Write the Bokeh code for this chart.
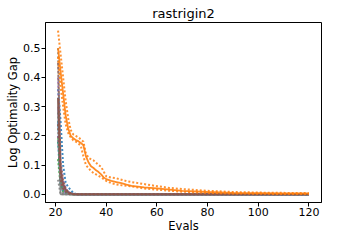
from bokeh.plotting import figure
from bokeh.models import Range1d, FixedTicker, CustomJSTickFormatter
from bokeh.embed import file_html
from bokeh.resources import INLINE

# ---- data ----
orange_x = [21,22,23,24,25,26,27,28,29,30,31,32,33,34,35,36,37,38,39,40,42,44,46,48,50,55,60,65,70,80,90,100,110,120]
orange_med = [0.50,0.42,0.345,0.27,0.225,0.20,0.192,0.186,0.182,0.176,0.168,0.13,0.11,0.096,0.09,0.082,0.076,0.068,0.058,0.052,0.046,0.042,0.038,0.033,0.029,0.024,0.02,0.016,0.012,0.008,0.005,0.004,0.003,0.003]
orange_hi = [0.56,0.48,0.40,0.32,0.26,0.22,0.205,0.20,0.195,0.188,0.18,0.14,0.125,0.12,0.116,0.108,0.10,0.094,0.078,0.062,0.057,0.055,0.05,0.045,0.042,0.035,0.028,0.022,0.018,0.012,0.008,0.006,0.005,0.004]
orange_lo = [0.47,0.37,0.30,0.24,0.21,0.195,0.185,0.18,0.175,0.165,0.13,0.10,0.09,0.08,0.073,0.068,0.063,0.058,0.052,0.046,0.038,0.034,0.031,0.029,0.027,0.02,0.016,0.012,0.009,0.005,0.003,0.002,0.001,0.001]

fast_x = [21,22,23,24,25,26,27,28,30,120]
blue_med = [0.25,0.06,0.03,0.015,0.008,0.004,0.002,0.001,0.0,0.0]
blue_hi = [0.36,0.25,0.10,0.04,0.025,0.015,0.005,0.001,0.0,0.0]
blue_lo = [0.18,0.03,0.01,0.004,0.001,0.0,0.0,0.0,0.0,0.0]
green_med = [0.20,0.05,0.02,0.01,0.004,0.001,0.0,0.0,0.0,0.0]
green_hi = [0.28,0.07,0.03,0.012,0.005,0.002,0.0,0.0,0.0,0.0]
green_lo = [0.12,0.03,0.01,0.004,0.001,0.0,0.0,0.0,0.0,0.0]
purple_med = [0.30,0.07,0.03,0.012,0.006,0.002,0.001,0.0,0.0,0.0]
purple_hi = [0.40,0.10,0.045,0.02,0.008,0.003,0.001,0.0,0.0,0.0]
purple_lo = [0.20,0.04,0.015,0.006,0.002,0.0,0.0,0.0,0.0,0.0]
brown_med = [0.33,0.08,0.035,0.015,0.007,0.003,0.001,0.0,0.0,0.0]
brown_hi = [0.45,0.11,0.05,0.02,0.009,0.004,0.002,0.0,0.0,0.0]
brown_lo = [0.24,0.05,0.02,0.008,0.003,0.001,0.0,0.0,0.0,0.0]
gray_med = [0.33,0.0,0.0,0.0,0.0,0.0,0.0,0.0,0.0,0.0]
gray_hi = [0.50,0.05,0.0,0.0,0.0,0.0,0.0,0.0,0.0,0.0]
gray_lo = [0.05,0.0,0.0,0.0,0.0,0.0,0.0,0.0,0.0,0.0]

x_ticks = [20, 40, 60, 80, 100, 120]
y_ticks = [0.0, 0.1, 0.2, 0.3, 0.4, 0.5]

FONT = "DejaVu Sans"

p = figure(frame_width=276, frame_height=180, output_backend="svg", toolbar_location=None,
           x_range=Range1d(16.05, 124.95), y_range=Range1d(-0.028, 0.588),
           title="rastrigin2", min_border_left=45, min_border_right=1,
           min_border_top=22, min_border_bottom=28)

p.title.text_font = FONT
p.title.text_font_size = "13px"
p.title.text_font_style = "normal"
p.title.text_color = "black"
p.title.align = "center"
p.title.standoff = 4

p.xgrid.visible = False
p.ygrid.visible = False
p.outline_line_color = "black"
p.outline_line_width = 1
p.background_fill_color = "white"

for ax in (p.xaxis[0], p.yaxis[0]):
    ax.axis_label_text_font = FONT
    ax.axis_label_text_font_size = "11.5px"
    ax.axis_label_text_font_style = "normal"
    ax.axis_label_text_color = "black"
    ax.major_label_text_font = FONT
    ax.major_label_text_font_size = "11px"
    ax.major_label_text_color = "black"
    ax.minor_tick_line_color = None
    ax.major_tick_out = 4
    ax.major_tick_in = 0
    ax.major_tick_line_color = "black"
    ax.axis_line_color = "black"
    ax.major_label_standoff = 1
    ax.axis_label_standoff = 0

p.xaxis.axis_label = "Evals"
p.yaxis.axis_label = "Log Optimality Gap"
p.xaxis.ticker = FixedTicker(ticks=x_ticks)
p.yaxis.ticker = FixedTicker(ticks=y_ticks)
p.yaxis.formatter = CustomJSTickFormatter(code="return tick.toFixed(1);")

series = [
    ("#1f77b4", fast_x, blue_med, blue_hi, blue_lo),
    ("#2ca02c", fast_x, green_med, green_hi, green_lo),
    ("#9467bd", fast_x, purple_med, purple_hi, purple_lo),
    ("#7f7f7f", fast_x, gray_med, gray_hi, gray_lo),
    ("#8c564b", fast_x, brown_med, brown_hi, brown_lo),
    ("#ff7f0e", orange_x, orange_med, orange_hi, orange_lo),
]

for color, xs, med, hi, lo in series:
    p.line(xs, hi, line_color=color, line_width=2, line_dash="2 2", line_alpha=0.85)
    p.line(xs, lo, line_color=color, line_width=2, line_dash="2 2", line_alpha=0.85)
    p.line(xs, med, line_color=color, line_width=1.8, line_alpha=0.9)

open("out.html", "w").write(file_html(p, INLINE))
